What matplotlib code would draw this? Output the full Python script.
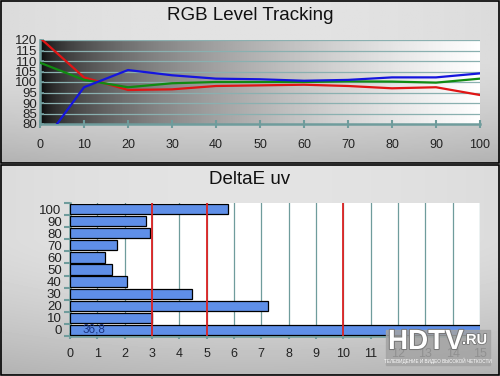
import matplotlib.pyplot as plt
import matplotlib.patheffects as pe
from matplotlib.patches import Rectangle
import numpy as np

plt.rcParams['font.family'] = ['Liberation Sans', 'DejaVu Sans']

# RGB level tracking (IRE vs. %)
levels = [0, 10, 20, 30, 40, 50, 60, 70, 80, 90, 100]
red = [121, 102.2, 96.2, 96.5, 98.1, 98.4, 98.7, 98.1, 97.0, 97.5, 93.8]
green = [109.2, 101.0, 97.5, 99.4, 100.0, 100.0, 100.0, 100.3, 100.2, 99.7, 101.6]
blue = [69, 97.5, 105.7, 103.2, 101.6, 101.3, 100.6, 101.0, 102.2, 102.2, 104.1]

# DeltaE uv per level
de_labels = ['0', '10', '20', '30', '40', '50', '60', '70', '80', '90', '100']
de_values = [36.8, 3.01, 7.26, 4.45, 2.10, 1.55, 1.29, 1.73, 2.92, 2.77, 5.78]
limits = [3, 5, 10]

W, H = 500, 376
fig = plt.figure(figsize=(W / 100, H / 100), dpi=100)

# panel backgrounds
bg = fig.add_axes([0, 0, 1, 1], zorder=-10)
bg.set_xlim(0, W)
bg.set_ylim(H, 0)
bg.axis('off')
for top, bot in [(0, 163), (164, 375)]:
    yy = np.linspace(0, 1, 60)[:, None]
    xx = np.linspace(0, 1, 120)[None, :]
    shade = 0.89 - 0.16 * np.clip(yy - 0.35, 0, None) ** 1.5 * 1.9 \
        - 0.03 * (xx - 0.5) ** 2 * 4
    bg.imshow(shade, cmap='gray', vmin=0, vmax=1, extent=(0, W, bot, top),
              aspect='auto', interpolation='bilinear')
    bg.add_patch(Rectangle((0.5, top + 0.5), W - 1.5, bot - top - 1,
                           fill=False, ec='black', lw=1.2))

teal = '#6f9c9c'

# ---- top chart ----
ax1 = fig.add_axes([40 / W, 1 - 124 / H, 440 / W, 84 / H])
grad = (np.linspace(0, 1, 256) ** 0.5)[None, :]
ax1.imshow(grad, cmap='gray', vmin=0, vmax=1, extent=(0, 100, 80, 120),
           aspect='auto', interpolation='bilinear', zorder=0)
ax1.plot(levels, red, color='#e01515', lw=1.6, zorder=3)
ax1.plot(levels, green, color='#118a11', lw=1.6, zorder=3)
ax1.plot(levels, blue, color='#1515dd', lw=1.6, zorder=4)
ax1.set_xlim(0, 100)
ax1.set_ylim(80, 120)
ax1.set_xticks(levels)
ax1.set_yticks(np.arange(80, 121, 5))
for yv in range(85, 121, 5):
    ax1.axhline(yv, color='#8ab0b0', lw=0.9, zorder=1)
for s in ['top', 'right']:
    ax1.spines[s].set_visible(False)
for s in ['left', 'bottom']:
    ax1.spines[s].set_color(teal)
    ax1.spines[s].set_linewidth(1.8)
ax1.tick_params(axis='x', colors=teal, direction='inout', length=6, width=1.5,
                labelcolor='#222222', labelsize=9, pad=8)
ax1.tick_params(axis='y', colors=teal, direction='in', length=3, width=1.2,
                labelcolor='#222222', labelsize=9.5, pad=2)
fig.text(0.5, 1 - 15 / H, 'RGB Level Tracking', ha='center', va='center',
         fontsize=13.5, color='#111111')

# ---- bottom chart ----
ax2 = fig.add_axes([70 / W, 1 - 336 / H, 410 / W, 133 / H])
ax2.set_facecolor('white')
pos = np.arange(len(de_labels))
ax2.barh(pos, de_values, height=0.85, color='#5f8fe8', edgecolor='black',
         lw=0.9, zorder=3)
for xv in range(1, 16):
    ax2.axvline(xv, color=teal, lw=0.9, zorder=1)
for xv in limits:
    ax2.axvline(xv, color='#dd2222', lw=1.3, zorder=4)
ax2.set_xlim(0, 15)
ax2.set_ylim(-0.5, 10.5)
ax2.set_xticks(range(0, 16))
ax2.set_yticks(pos)
ax2.set_yticklabels(de_labels)
ax2.set_yticks(np.arange(-0.5, 11, 1), minor=True)
ax2.tick_params(axis='y', which='major', length=0, labelsize=9.5,
                labelcolor='#222222', pad=6)
ax2.tick_params(axis='y', which='minor', colors=teal, length=4, width=1.5,
                direction='out')
ax2.tick_params(axis='x', colors=teal, direction='inout', length=5, width=1.5,
                labelcolor='#222222', labelsize=9, pad=6)
for s in ['top', 'right']:
    ax2.spines[s].set_visible(False)
for s in ['left', 'bottom']:
    ax2.spines[s].set_color(teal)
    ax2.spines[s].set_linewidth(1.8)
ax2.text(0.45, 0, '36,8', color='#1c3580', fontsize=8.5, va='center',
         ha='left', zorder=5)
fig.text(0.5, 1 - 179 / H, 'DeltaE uv', ha='center', va='center',
         fontsize=13.5, color='#111111')

# watermark logo
bg2 = fig.add_axes([0, 0, 1, 1], zorder=10)
bg2.set_xlim(0, W)
bg2.set_ylim(H, 0)
bg2.axis('off')
bg2.add_patch(Rectangle((386, 330), 104, 35, color='#a4a4a4', alpha=0.85))
bg2.text(388, 342, 'HDTV', fontsize=20, fontweight='bold', color='white',
         va='center', ha='left',
         path_effects=[pe.withStroke(linewidth=1.5, foreground='#777777')])
bg2.text(462, 340, '.RU', fontsize=10.5, fontweight='bold', color='white',
         va='center', ha='left',
         path_effects=[pe.withStroke(linewidth=1.2, foreground='#777777')])
bg2.text(438, 361, 'ТЕЛЕВИДЕНИЕ И ВИДЕО ВЫСОКОЙ ЧЕТКОСТИ', fontsize=3.3,
         color='white', va='center', ha='center')

fig.savefig('out.png', dpi=100)
